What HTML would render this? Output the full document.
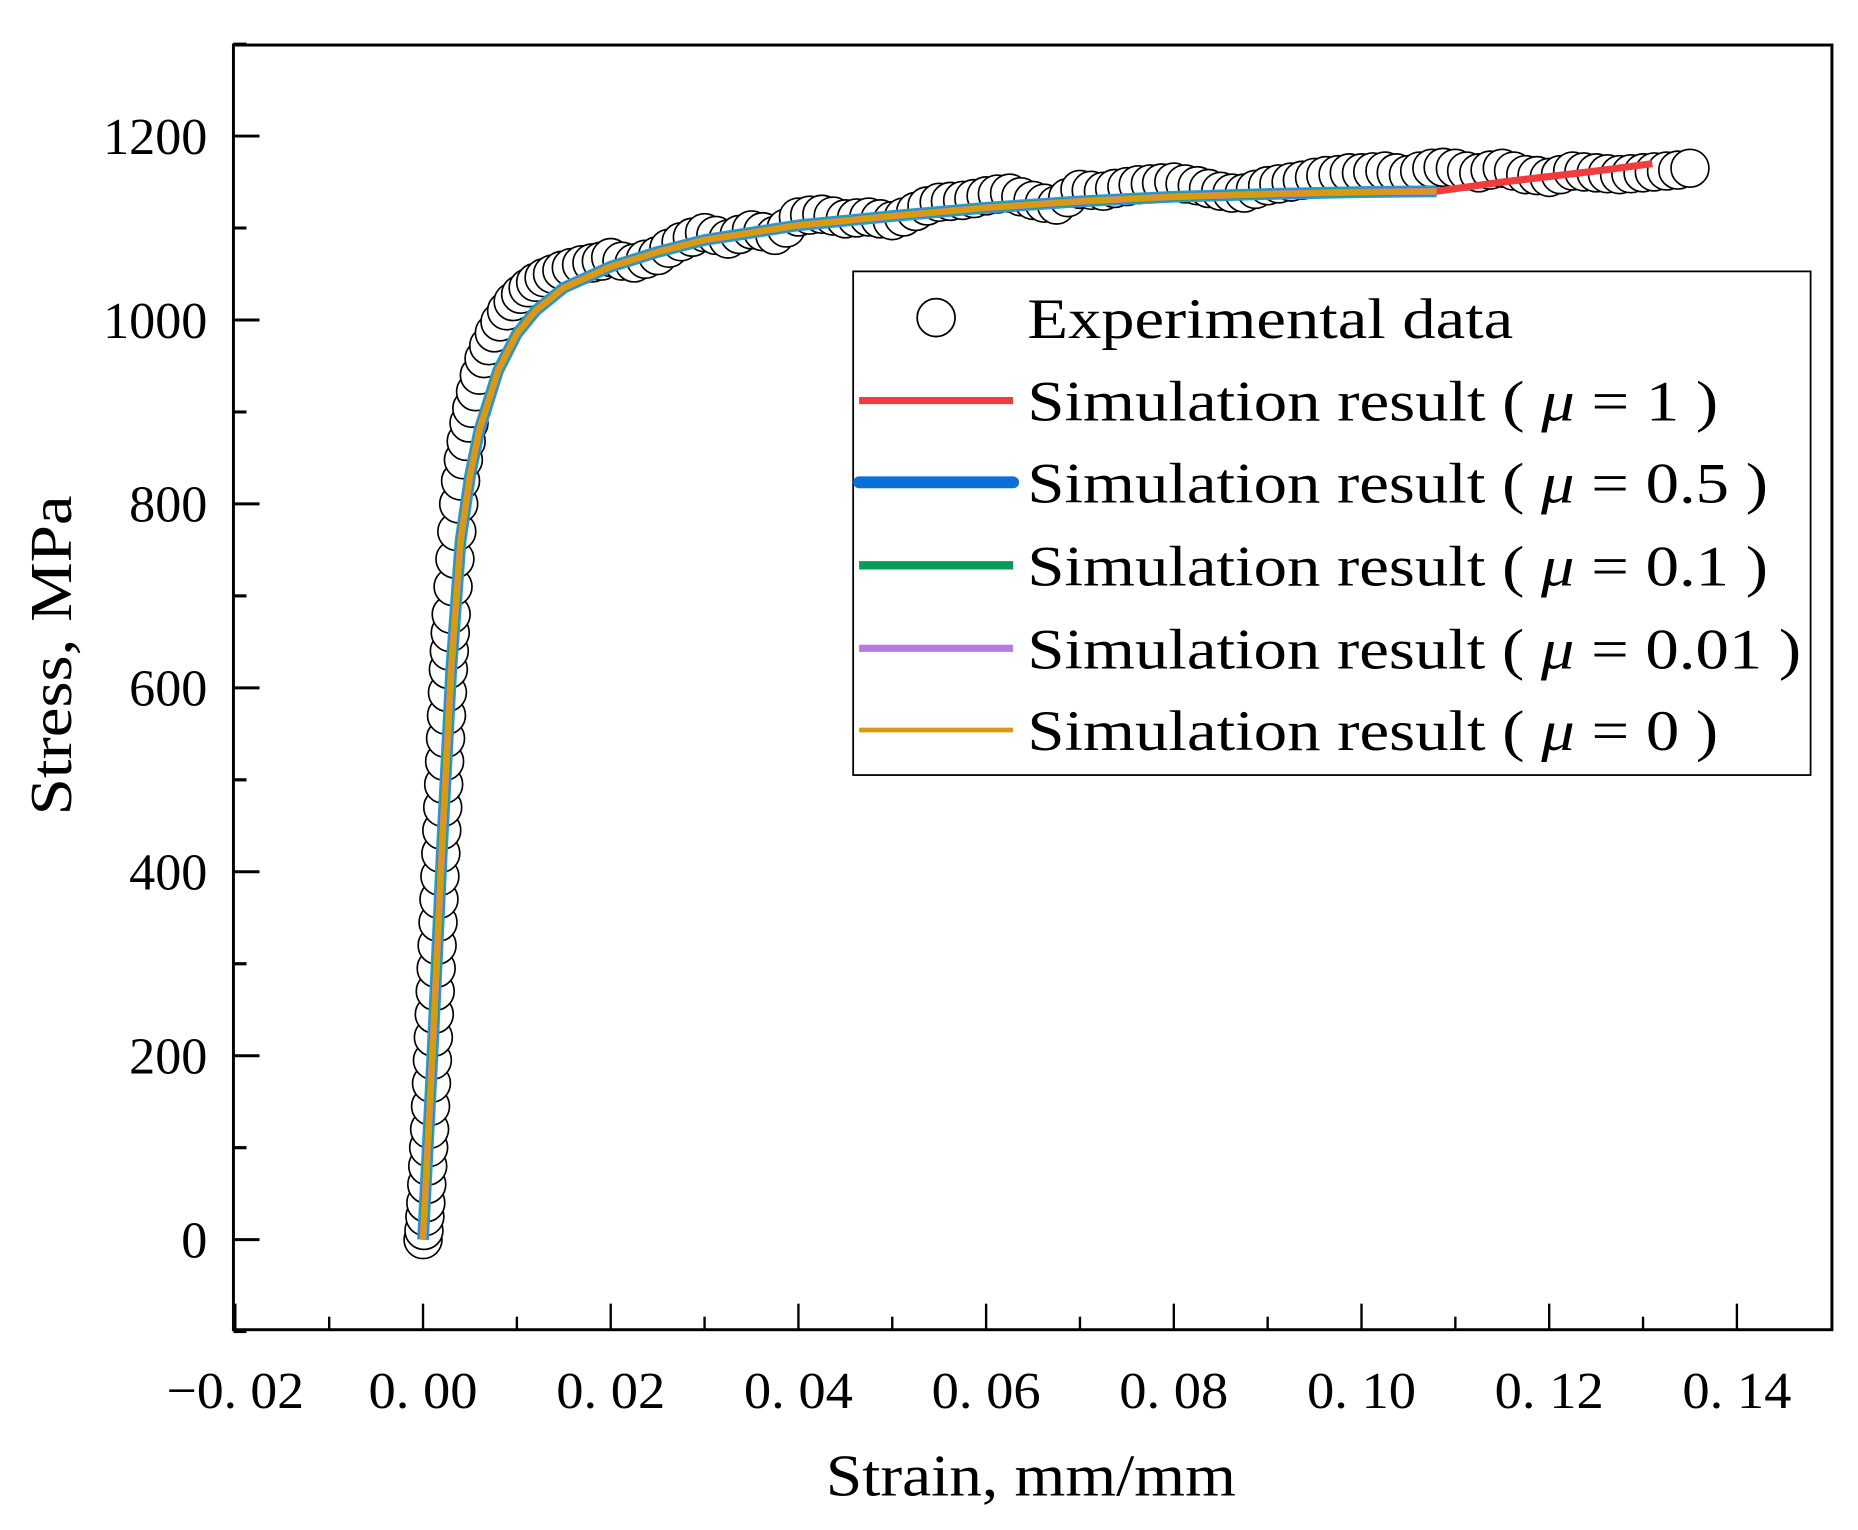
<!DOCTYPE html>
<html><head><meta charset="utf-8"><style>
html,body{margin:0;padding:0;background:#fff;}
svg{display:block;}
text{font-family:"Liberation Serif","DejaVu Serif",serif;fill:#000;}
</style></head><body>
<svg id="chart" width="1858" height="1530" viewBox="0 0 1568 1291" preserveAspectRatio="none" xmlns="http://www.w3.org/2000/svg">
<g id="marks"></g>
<rect x="197" y="38" width="1349" height="1084" fill="none" stroke="#000" stroke-width="2.5"/>
<g id="axes"></g>
<text x="697" y="1262" font-size="50" textLength="346" lengthAdjust="spacingAndGlyphs">Strain, mm/mm</text>
<text transform="translate(60,688) rotate(-90)" font-size="50" textLength="270" lengthAdjust="spacingAndGlyphs">Stress, MPa</text>
<g>
<rect x="720" y="229" width="808" height="425" fill="#fff" stroke="#000" stroke-width="1.5"/>
<circle cx="790" cy="268" r="16" fill="#fff" stroke="#000" stroke-width="1.5"/>
<text x="867" y="285" font-size="48" textLength="410" lengthAdjust="spacingAndGlyphs">Experimental data</text>
<line x1="725" y1="338" x2="855" y2="338" stroke="#f03c3c" stroke-width="6"/>
<text x="867" y="355" font-size="48" textLength="583" lengthAdjust="spacingAndGlyphs">Simulation result ( <tspan font-style="italic">μ</tspan> = 1 )</text>
<line x1="725" y1="407" x2="855" y2="407" stroke="#0a6fd8" stroke-width="10" stroke-linecap="round"/>
<text x="867" y="424" font-size="48" textLength="625" lengthAdjust="spacingAndGlyphs">Simulation result ( <tspan font-style="italic">μ</tspan> = 0.5 )</text>
<line x1="725" y1="477" x2="855" y2="477" stroke="#0a9a5a" stroke-width="7"/>
<text x="867" y="494" font-size="48" textLength="625" lengthAdjust="spacingAndGlyphs">Simulation result ( <tspan font-style="italic">μ</tspan> = 0.1 )</text>
<line x1="725" y1="547" x2="855" y2="547" stroke="#b77be0" stroke-width="6"/>
<text x="867" y="564" font-size="48" textLength="653" lengthAdjust="spacingAndGlyphs">Simulation result ( <tspan font-style="italic">μ</tspan> = 0.01 )</text>
<line x1="725" y1="616" x2="855" y2="616" stroke="#d99a10" stroke-width="4"/>
<text x="867" y="633" font-size="48" textLength="583" lengthAdjust="spacingAndGlyphs">Simulation result ( <tspan font-style="italic">μ</tspan> = 0 )</text>
</g>
</svg>
<script>
const xTicks = [-0.02,0,0.02,0.04,0.06,0.08,0.10,0.12,0.14];
const xTickLabels = ["\u22120. 02","0. 00","0. 02","0. 04","0. 06","0. 08","0. 10","0. 12","0. 14"];
const yTicks = [0,200,400,600,800,1000,1200];
const yTickLabels = ["0","200","400","600","800","1000","1200"];
const expStrain = [0,0.0001,0.0002,0.0003,0.0004,0.0005,0.0006,0.0007,0.0008,0.0009,0.001,0.0011,0.0012,0.0013,0.0014,0.0015,0.0016,0.0017,0.0018,0.0019,0.002,0.0021,0.0022,0.0023,0.0024,0.0025,0.0026,0.0027,0.0028,0.0029,0.003,0.0032,0.0034,0.0036,0.0038,0.004,0.0043,0.0046,0.0049,0.0052,0.0056,0.006,0.0065,0.007,0.0076,0.0082,0.0089,0.0096,0.0104,0.0112,0.012,0.0129,0.0138,0.0148,0.0158,0.0169,0.018,0.019,
0.020,0.0212,0.0225,0.0237,0.025,0.0262,0.0275,0.0287,0.03,0.0312,0.0325,0.0337,0.035,0.0362,0.0375,0.0387,0.04,0.0412,0.0425,0.0437,0.045,0.0462,0.0475,0.0487,0.05,0.0512,0.0525,0.0537,0.055,0.0562,0.0575,0.0587,0.06,0.0612,0.0625,0.0637,0.065,0.0662,0.0675,0.0687,0.07,0.0712,0.0725,0.0737,0.075,0.0762,0.0775,0.0787,0.08,0.0812,0.0825,0.0837,0.085,0.0862,0.0875,0.0887,0.09,0.0912,0.0925,0.0937,0.095,0.0962,0.0975,0.0987,0.1,0.1012,0.1025,0.1037,0.105,0.1062,0.1075,0.1087,0.11,0.1112,0.1125,0.1137,0.115,0.1162,0.1175,0.1187,0.12,0.1212,0.1225,0.1237,0.125,0.1262,0.1275,0.1287,0.13,0.1312,0.1325,0.1337,0.135];
const expStress = [0,10,25,40,60,80,100,120,145,170,195,220,245,270,295,320,345,370,395,420,445,470,495,520,545,570,595,620,640,660,680,710,740,770,800,825,848,868,888,904,922,940,958,972,986,998,1010,1020,1028,1035,1041,1046,1050,1054,1057,1060,1062,1064,
1068,1064,1062,1066,1070,1078,1085,1090,1095,1092,1088,1093,1098,1096,1092,1100,1112,1114,1115,1113,1110,1111,1112,1110,1108,1112,1118,1124,1128,1129,1130,1132,1135,1137,1138,1134,1130,1127,1125,1133,1142,1141,1140,1143,1145,1147,1148,1149,1150,1148,1146,1143,1140,1138,1138,1142,1146,1148,1150,1152,1155,1157,1158,1160,1160,1161,1162,1160,1158,1162,1165,1166,1165,1162,1160,1163,1165,1162,1158,1157,1155,1158,1162,1161,1160,1159,1158,1159,1160,1161,1162,1163,1165];
const simStrain = [0,0.001,0.002,0.003,0.004,0.005,0.006,0.008,0.01,0.012,0.015,0.02,0.025,0.03,0.04,0.05,0.06,0.07,0.08,0.09,0.1,0.108];
const simStress = [0,200,420,620,760,830,880,945,985,1010,1035,1058,1074,1087,1103,1113,1122,1129,1134,1137,1139,1140];
const redExtraStrain = [0.115,0.125,0.131];
const redExtraStress = [1150,1162,1170];

const X = v => 357 + v/0.02*158.4;
const Y = v => 1046 - v/200*155.2;
const NS = "http://www.w3.org/2000/svg";
function mk(tag, attrs){const e=document.createElementNS(NS,tag);for(const k in attrs)e.setAttribute(k,attrs[k]);return e;}
const axes = document.getElementById('axes');
const marks = document.getElementById('marks');

xTicks.forEach((t,i)=>{
  const l = mk('line',{x1:X(t),x2:X(t),y1:1122,y2:1100,stroke:'#000','stroke-width':2});
  
  
  axes.appendChild(l);
  if(i<xTicks.length-1){
    const m = mk('line',{x1:X(t+0.01),x2:X(t+0.01),y1:1122,y2:1111,stroke:'#000','stroke-width':2});
    
    
    axes.appendChild(m);
  }
  const w = i===0 ? 116 : 92;
  const tx = mk('text',{x:X(t)+ (i===0? -58 : -46),y:1188,'font-size':44,textLength:w,lengthAdjust:'spacingAndGlyphs'});
  
  
  tx.textContent = xTickLabels[i];
  axes.appendChild(tx);
});
yTicks.forEach((t,i)=>{
  const l = mk('line',{x1:197,x2:219,y1:Y(t),y2:Y(t),stroke:'#000','stroke-width':2.5});
  
  
  axes.appendChild(l);
  [t-100,t+100].forEach(mv=>{
    const m = mk('line',{x1:197,x2:208,y1:Y(mv),y2:Y(mv),stroke:'#000','stroke-width':2.5});
    
    
    axes.appendChild(m);
  });
  const tx = mk('text',{x:175,y:Y(t)+15,'font-size':44,'text-anchor':'end'});
  
  
  tx.textContent = yTickLabels[i];
  axes.appendChild(tx);
});

expStrain.forEach((s,i)=>{
  const c = mk('circle',{cx:X(s),cy:Y(expStress[i]),r:16,fill:'#fff',stroke:'#000','stroke-width':1.4});
  
  
  marks.appendChild(c);
});
function path(xs,ys){return xs.map((s,i)=>(i?'L':'M')+X(s).toFixed(1)+','+Y(ys[i]).toFixed(1)).join(' ');}
const redX = simStrain.concat(redExtraStrain), redY = simStress.concat(redExtraStress);
const series = [
  ['sim-line-mu1',redX,redY,'#f03c3c',6],
  ['sim-line-mu05',simStrain,simStress,'#2a9ad8',10],
  ['sim-line-mu01',simStrain,simStress,'#0a9a5a',7],
  ['sim-line-mu001',simStrain,simStress,'#b77be0',6],
  ['sim-line-mu0',simStrain,simStress,'#d99a10',5]
];
series.forEach(s=>{
  const p = mk('path',{d:path(s[1],s[2]),fill:'none',stroke:s[3],'stroke-width':s[4],'stroke-linejoin':'round'});
  
  
  marks.appendChild(p);
});
</script>
</body></html>
